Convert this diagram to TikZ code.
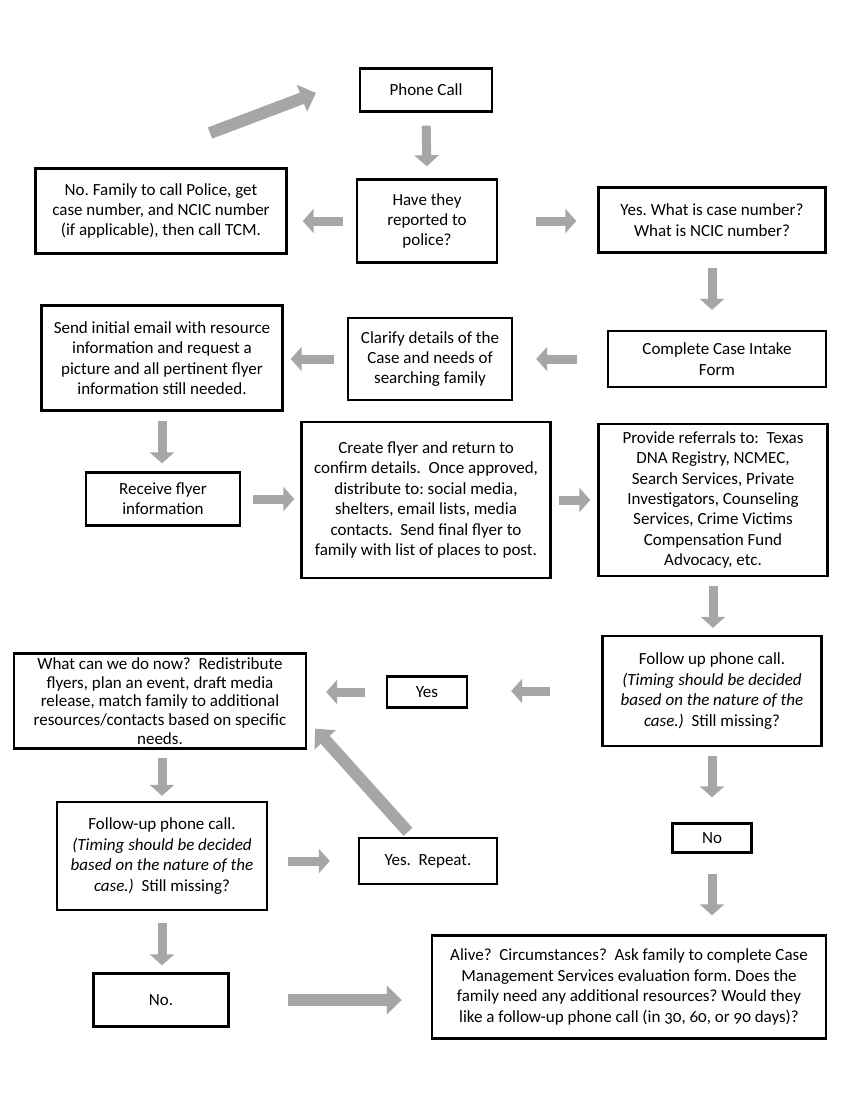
\documentclass[tikz,border=0pt]{standalone}
\usepackage{fontspec}
\setmainfont{Carlito}
\frenchspacing
\usetikzlibrary{arrows.meta,calc}
\begin{document}
\begin{tikzpicture}[x=1pt,y=-1pt,
  box/.style={draw=black, line width=2.4pt, align=center, inner sep=2pt,
    font=\fontsize{17}{20.4}\selectfont},
  blk/.style={draw=black!35, line width=9pt,
    -{Triangle[length=11pt,width=24pt]}},
  bigblk/.style={draw=black!35, line width=12pt,
    -{Triangle[length=15pt,width=28pt]}}]
\useasboundingbox (0,0) rectangle (850,1100);
\fill[white] (0,0) rectangle (850,1100);

\node[box, minimum width=132, minimum height=43] (phone) at (426,90) {Phone Call};
\node[box, minimum width=140, minimum height=83] (rep) at (427,221) {Have they\\reported to\\police?};
\node[box, minimum width=251, minimum height=85] (no1) at (161,211) {No. Family to call Police, get\\case number, and NCIC number\\(if applicable), then call TCM.};
\node[box, minimum width=227, minimum height=65] (yes1) at (712,220) {Yes. What is case number?\\What is NCIC number?};
\node[box, minimum width=218, minimum height=56] (intake) at (717,359) {Complete Case Intake\\Form};
\node[box, minimum width=164, minimum height=82] (clar) at (430,359) {Clarify details of the\\Case and needs of\\searching family};
\node[box, minimum width=241, minimum height=105] (email) at (162,358) {Send initial email with resource\\information and request a\\picture and all pertinent flyer\\information still needed.};
\node[box, minimum width=154, minimum height=53] (recv) at (163,499) {Receive flyer\\information};
\node[box, minimum width=249, minimum height=156] (create) at (426,500) {Create flyer and return to\\confirm details.\ \ Once approved,\\distribute to: social media,\\shelters, email lists, media\\contacts.\ \ Send final flyer to\\family with list of places to post.};
\node[box, minimum width=229, minimum height=152] (refer) at (713,500) {Provide referrals to:\ \ Texas\\DNA Registry, NCMEC,\\Search Services, Private\\Investigators, Counseling\\Services, Crime Victims\\Compensation Fund\\Advocacy, etc.};
\node[box, minimum width=292, minimum height=95, font=\fontsize{17}{18.6}\selectfont] (what) at (160,701) {What can we do now?\ \ Redistribute\\flyers, plan an event, draft media\\release, match family to additional\\resources/contacts based on specific\\needs.};
\node[box, minimum width=80, minimum height=31] (yes2) at (427,692) {Yes};
\node[box, minimum width=219, minimum height=110] (fu1) at (712,691) {Follow up phone call.\\\textit{(Timing should be decided}\\\textit{based on the nature of the}\\\textit{case.)}\ \ Still missing?};
\node[box, minimum width=79, minimum height=29] (no2) at (712,838) {No};
\node[box, minimum width=210, minimum height=108] (fu2) at (162,856) {Follow-up phone call.\\\textit{(Timing should be decided}\\\textit{based on the nature of the}\\\textit{case.)}\ \ Still missing?};
\node[box, minimum width=138, minimum height=46] (again) at (428,861) {Yes.\ \ Repeat.};
\node[box, minimum width=135, minimum height=53] (no3) at (161,1000) {No.};
\node[box, minimum width=394, minimum height=103] (alive) at (629,987) {Alive?\ \ Circumstances?\ \ Ask family to complete Case\\Management Services evaluation form. Does the\\family need any additional resources? Would they\\like a follow-up phone call (in {\addfontfeature{Numbers=OldStyle}30, 60, or 90} days)?};

\coordinate (s0) at (210,133);
\coordinate (e0) at (316,93);
\draw[bigblk] (s0) -- (e0);

\draw[blk, shorten <=13pt, shorten >=12pt] (phone.south) -- (rep.north);
\draw[blk, shorten <=13pt, shorten >=15pt] (rep.west) -- (rep.west -| no1.east);
\draw[blk, shorten <=38pt, shorten >=21pt] (rep.east) -- (rep.east -| yes1.west);
\draw[blk, shorten <=14pt, shorten >=20pt] (yes1.south) -- (yes1.south |- intake.north);
\draw[blk, shorten <=30pt, shorten >=23pt] (intake.west) -- (intake.west -| clar.east);
\draw[blk, shorten <=13pt, shorten >=7pt] (clar.west) -- (clar.west -| email.east);
\draw[blk, shorten <=9pt, shorten >=8pt] (email.south) -- (email.south |- recv.north);
\draw[blk, shorten <=12pt, shorten >=6pt] (recv.east) -- (recv.east -| create.west);
\draw[blk, shorten <=7pt, shorten >=7pt] (create.east) -- (create.east -| refer.west);
\draw[blk, shorten <=9pt, shorten >=7pt] (refer.south) -- (refer.south |- fu1.north);
\draw[blk, shorten <=51pt, shorten >=43pt] (fu1.west) -- (fu1.west -| yes2.east);
\draw[blk, shorten <=21pt, shorten >=19pt] (yes2.west) -- (yes2.west -| what.east);
\draw[blk, shorten <=8pt, shorten >=5pt] (what.south -| fu2.north) -- (fu2.north);
\draw[blk, shorten <=20pt, shorten >=28pt] (fu2.east |- again.west) -- (again.west);
\draw[blk, shorten <=9pt, shorten >=25pt] (fu1.south) -- (no2.north);
\draw[blk, shorten <=20pt, shorten >=19pt] (no2.south) -- (alive.north -| no2.south);
\draw[blk, shorten <=12pt, shorten >=7pt] (fu2.south) -- (fu2.south |- no3.north);
\draw[bigblk, shorten <=58pt, shorten >=29pt] (no3.east) -- (no3.east -| alive.west);
\draw[bigblk] ([xshift=-20pt,yshift=5pt]again.north) -- ([xshift=8pt,yshift=21pt]what.south east);
\end{tikzpicture}
\end{document}
